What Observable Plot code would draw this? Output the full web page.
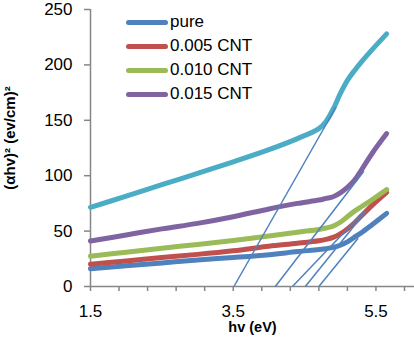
<!DOCTYPE html>
<html><head><meta charset="utf-8">
<script src="https://cdn.jsdelivr.net/npm/d3@7"></script>
<script src="https://cdn.jsdelivr.net/npm/@observablehq/plot@0.6"></script>
<style>
html,body{margin:0;padding:0;background:#fff;}
#wrap{position:relative;width:414px;height:337px;font-family:"Liberation Sans",Arial,sans-serif;}
#legend{position:absolute;left:126px;top:10px;}
.item{display:flex;align-items:center;height:24px;font-size:17px;color:#000;white-space:nowrap;}
.sw{width:42px;height:5px;border-radius:3px;margin-right:2px;}
</style></head><body><div id="wrap"><div id="legend"></div></div>
<script>
// photon energy (eV)
const hv = [1.5, 2.0, 2.5, 3.0, 3.5, 4.0, 4.4, 4.7, 4.8, 4.9, 5.0, 5.1, 5.2, 5.3, 5.45, 5.65];
// (αhv)^2 values per sample
const pure   = [16, 18.7, 21.3, 24, 26.2, 28.7, 31.5, 33.3, 34.2, 35.3, 37.2, 40.3, 44.5, 48.7, 56, 66];
const cnt005 = [20.1, 23.1, 26.1, 29, 32.3, 36.3, 39, 41.3, 42.5, 44.3, 47.5, 52, 57.5, 64, 73.5, 85];
const cnt010 = [27.3, 31, 34.5, 38, 41.5, 45.5, 49, 51.5, 52.8, 54.5, 58, 63, 68, 72.2, 78.5, 87.5];
const cnt015 = [41, 46.5, 52, 57, 63, 70, 75, 78, 79.5, 81, 84.5, 89.5, 96, 105.5, 120.5, 138];
const extra  = [71.5, 81.5, 92, 102, 112.5, 123.5, 133.5, 142.5, 149, 160, 174, 186, 195, 203, 214, 228];

const seriesKeys = ["pure", "0.005 CNT", "0.010 CNT", "0.015 CNT", "extra"];
const seriesVals = [pure, cnt005, cnt010, cnt015, extra];
const seriesColors = ["#4F81BD", "#C0504D", "#9BBB59", "#8064A2", "#4BACC6"];
const legendKeys = ["pure", "0.005 CNT", "0.010 CNT", "0.015 CNT"];

// extrapolated tangent lines (x-intercept and upper end)
const tanX0 = [3.51, 4.09, 4.33, 4.51, 4.70];
const tanX1 = [4.94, 5.33, 5.33, 5.36, 5.25];
const tanY1 = [162, 104, 67.5, 68, 43.5];

const xTicks = [1.5, 1.9, 2.3, 2.7, 3.1, 3.5, 3.9, 4.3, 4.7, 5.1, 5.5, 5.9];
const xLabels = [1.5, 3.5, 5.5];
const yTicks = [0, 50, 100, 150, 200, 250];

const rows = [];
seriesKeys.forEach((k, i) => hv.forEach((x, j) => rows.push({x, y: seriesVals[i][j], s: k})));
const tangents = tanX0.map((x0, i) => ({x0, x1: tanX1[i], y1: tanY1[i]}));

const axisColor = "#868686";
const chart = Plot.plot({
  width: 414, height: 337,
  marginLeft: 90, marginRight: 0, marginTop: 9, marginBottom: 51,
  style: {fontFamily: '"Liberation Sans", Arial, sans-serif', fontSize: "17px", background: "#fff", color: "#000"},
  x: {domain: [1.5, 6.04]},
  y: {domain: [0, 250]},
  color: {domain: seriesKeys, range: seriesColors},
  marks: [
    Plot.ruleX([1.5], {stroke: axisColor, strokeWidth: 1.5}),
    Plot.ruleY([0], {stroke: axisColor, strokeWidth: 1.5}),
    Plot.axisY({ticks: yTicks, tickSize: 6, tickPadding: 12, stroke: axisColor, strokeWidth: 1.5, fill: "#000", label: null, fontSize: 17}),
    Plot.axisX({ticks: xTicks, tickSize: 5, tickPadding: 13, stroke: axisColor, strokeWidth: 1.5, fill: "#000", label: null, fontSize: 17,
      tickFormat: d => xLabels.some(v => Math.abs(v - d) < 1e-9) ? d.toFixed(1) : ""}),
    Plot.line(rows, {x: "x", y: "y", z: "s", stroke: "s", strokeWidth: 5, curve: "catmull-rom", strokeLinecap: "round", strokeLinejoin: "round"}),
    Plot.link(tangents, {x1: "x0", y1: () => 0, x2: "x1", y2: "y1", stroke: "#4F81BD", strokeWidth: 1.5}),
    Plot.text(["(αhv)² (ev/cm)²"], {text: d => d, frameAnchor: "left", dx: -80, dy: -10, rotate: -90, textAnchor: "middle", fontWeight: "bold", fontSize: 15, fill: "#000", lineAnchor: "middle"}),
    Plot.text(["hv (eV)"], {text: d => d, frameAnchor: "bottom", dy: 41, textAnchor: "middle", fontWeight: "bold", fontSize: 14.5, fill: "#000", lineAnchor: "middle"})
  ]
});
const wrap = document.getElementById("wrap");
wrap.insertBefore(chart, wrap.firstChild);
chart.style.display = "block";

const legend = document.getElementById("legend");
legendKeys.forEach(k => {
  const i = seriesKeys.indexOf(k);
  const item = document.createElement("div");
  item.className = "item";
  const sw = document.createElement("div");
  sw.className = "sw";
  sw.style.background = seriesColors[i];
  const t = document.createElement("span");
  t.textContent = k;
  item.appendChild(sw); item.appendChild(t);
  legend.appendChild(item);
});
</script></body></html>
